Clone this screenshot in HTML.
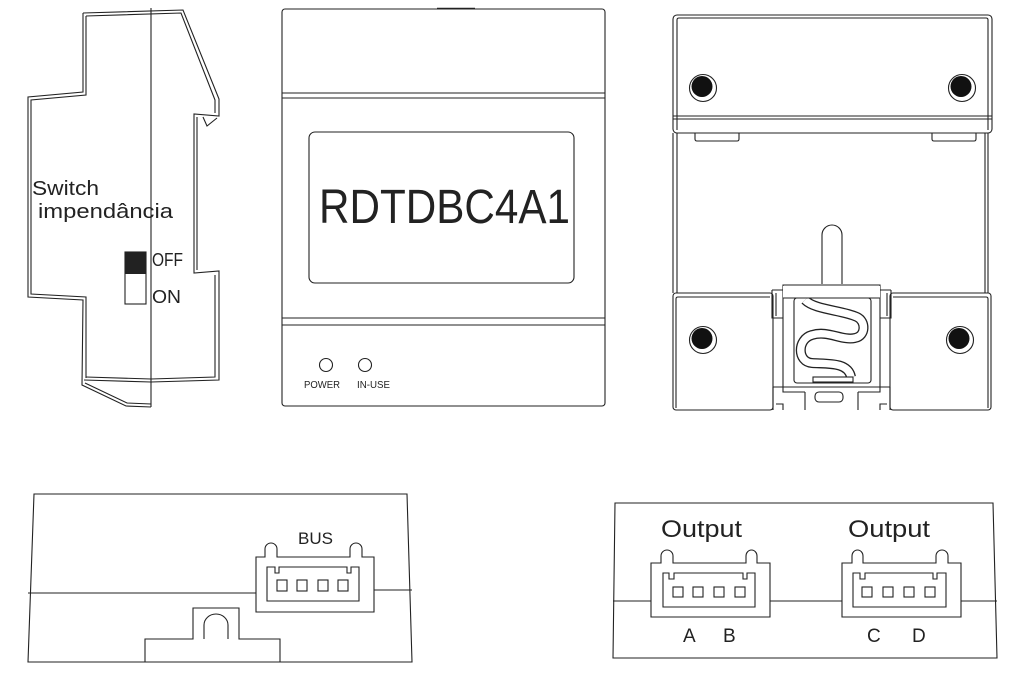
<!DOCTYPE html>
<html>
<head>
<meta charset="utf-8">
<style>
html,body{margin:0;padding:0;background:#fff;}
svg{display:block;}
text{font-family:"Liberation Sans","DejaVu Sans",sans-serif;fill:#222;}
</style>
</head>
<body>
<svg width="1018" height="681" viewBox="0 0 1018 681" xmlns="http://www.w3.org/2000/svg">
<rect width="1018" height="681" fill="#fff"/>

<!-- ========== SIDE VIEW ========== -->
<g fill="none" stroke="#222" stroke-width="1.1" stroke-linejoin="miter">
  <path d="M83,13 L183,10 L219,99 L219,116 L194,114 L194,273 L219,271 L219,380 L151,382 L84,380"/>
  <path d="M83,13 L83,92 L28,97 L28,297 L83,300 L82,385 L126,406 L151,407"/>
  <path d="M86,16 L181,13 L215,100 L215,113"/>
  <path d="M197,117 L197,270"/>
  <path d="M215,275 L215,377 L151,379 L86,377"/>
  <path d="M86,16 L86,95 L31,100 L31,294 L86,297 L86,378"/>
  <path d="M85,383 L127,403 L151,404"/>
  <path d="M203,117 L207,126 L217,118"/>
  <path d="M151,8 L151,407"/>
  <rect x="125" y="252" width="21" height="52"/>
</g>
<rect x="125" y="252" width="21" height="22" fill="#222"/>
<text x="32" y="195" font-size="20" textLength="67" lengthAdjust="spacingAndGlyphs">Switch</text>
<text x="38" y="218" font-size="20" textLength="135" lengthAdjust="spacingAndGlyphs">impendância</text>
<text x="152" y="266" font-size="18" textLength="31" lengthAdjust="spacingAndGlyphs">OFF</text>
<text x="152" y="303" font-size="18" textLength="29" lengthAdjust="spacingAndGlyphs">ON</text>

<!-- ========== FRONT VIEW ========== -->
<g fill="none" stroke="#222" stroke-width="1.1">
  <rect x="282" y="9" width="323" height="397" rx="3"/>
  <path d="M437,8.5 L475,8.5" stroke-width="1.6"/>
  <path d="M282,93 L605,93 M282,98 L605,98"/>
  <path d="M282,318 L605,318 M282,325 L605,325"/>
  <rect x="309" y="132" width="265" height="151" rx="6"/>
  <circle cx="326" cy="365" r="6.5"/>
  <circle cx="365" cy="365" r="6.5"/>
</g>
<text x="319" y="223" font-size="48" textLength="251" lengthAdjust="spacingAndGlyphs">RDTDBC4A1</text>
<text x="304" y="388" font-size="10" textLength="36" lengthAdjust="spacingAndGlyphs">POWER</text>
<text x="357" y="388" font-size="10" textLength="33" lengthAdjust="spacingAndGlyphs">IN-USE</text>

<!-- ========== BACK VIEW ========== -->
<g fill="none" stroke="#222" stroke-width="1.1">
  <rect x="673" y="15" width="319" height="118" rx="4"/>
  <path d="M677,130 L677,20 Q677,18 679,18 L986,18 Q988,18 988,20 L988,130"/>
  <path d="M673,116 L992,116 M673,119 L992,119"/>
  <path d="M673,133 L673,293 M677,133 L677,293"/>
  <path d="M988,133 L988,293 M985,133 L985,293"/>
  <path d="M695,133 L695,139 Q695,141 697,141 L737,141 Q739,141 739,139 L739,133"/>
  <path d="M932,133 L932,139 Q932,141 934,141 L974,141 Q976,141 976,139 L976,133"/>
  <rect x="673" y="293" width="100" height="117" rx="3"/>
  <path d="M676,408 L676,299 Q676,297 678,297 L770,297"/>
  <rect x="890" y="293" width="101" height="117" rx="3"/>
  <path d="M893,297 L986,297 Q988,297 988,299 L988,408"/>
  <path d="M822,284 L822,235 A10,10 0 0 1 842,235 L842,284"/>
  <path d="M783,387 L783,285 L880,285 L880,387"/>
  <path d="M783,298 L880,298"/>
  <path d="M772,290 L783,290 M772,290 L772,318 L783,318"/>
  <path d="M776,293 L776,316"/>
  <path d="M891,290 L880,290 M891,290 L891,318 L880,318"/>
  <path d="M887,293 L887,316"/>
  <path d="M773,387 L890,387"/>
  <path d="M773,387 L773,410 M890,387 L890,410"/>
  <path d="M805,392 L805,410 M858,392 L858,410 M783,387 L783,392 L805,392 M880,387 L880,392 L858,392"/>
  <path d="M776,404 L783,404 L783,410 M887,404 L880,404 L880,410"/>
  <!-- spring -->
  <path d="M805,300 C815,310 842,310 857,317 C866,321 866,336 855,338 C842,341 828,330 812,335 C797,339 797,362 812,363 C828,364 848,362 851,377" stroke="#222" stroke-width="10"/>
  <path d="M805,300 C815,310 842,310 857,317 C866,321 866,336 855,338 C842,341 828,330 812,335 C797,339 797,362 812,363 C828,364 848,362 851,377" stroke="#fff" stroke-width="7.4"/>
  <rect x="813" y="377" width="40" height="5" fill="#fff"/>
  <rect x="815" y="392" width="28" height="10" rx="4"/>
  <circle cx="703" cy="88" r="13.5"/>
  <circle cx="962" cy="88" r="13.5"/>
  <circle cx="703" cy="340" r="13.5"/>
  <circle cx="960" cy="340" r="13.5"/>
</g>
<g fill="#111">
  <circle cx="702" cy="86.5" r="10.5"/>
  <circle cx="961" cy="86.5" r="10.5"/>
  <circle cx="702" cy="338.5" r="10.5"/>
  <circle cx="959" cy="338.5" r="10.5"/>
</g>
<!-- mask spring overflow outside frame, then redraw frame -->
<path d="M783,286 L880,286 L880,298 L783,298 Z" fill="#fff"/>
<path d="M783,298 L880,298" fill="none" stroke="#222" stroke-width="1.1"/>
<rect x="794" y="298" width="77" height="85" rx="3" fill="none" stroke="#222" stroke-width="1.1"/>

<!-- ========== BOTTOM LEFT VIEW ========== -->
<g fill="none" stroke="#222" stroke-width="1.1">
  <path d="M34,494 L407,494 L412,662 L28,662 Z"/>
  <path d="M28,593 L256,593 M374,590 L412,590"/>
  <path d="M256,557 L265,557 L265,549 A6,6 0 0 1 277,549 L277,557 L350,557 L350,549 A6,6 0 0 1 362,549 L362,557 L374,557 L374,612 L256,612 Z" fill="#fff"/>
  <path d="M267,567 L275,567 L275,573 L279,573 L279,567 L347,567 L347,573 L351,573 L351,567 L359,567 L359,601 L267,601 Z"/>
  <rect x="277" y="580" width="10" height="11"/>
  <rect x="297" y="580" width="10" height="11"/>
  <rect x="318" y="580" width="10" height="11"/>
  <rect x="338" y="580" width="10" height="11"/>
  <path d="M145,662 L145,639 L193,639 L193,608 L239,608 L239,639 L280,639 L280,662"/>
  <path d="M204,639 L204,625 A12,11 0 0 1 228,625 L228,639"/>
</g>
<text x="298" y="544" font-size="17" textLength="35" lengthAdjust="spacingAndGlyphs">BUS</text>

<!-- ========== BOTTOM RIGHT VIEW ========== -->
<g fill="none" stroke="#222" stroke-width="1.1">
  <path d="M615,503 L993,503 L997,658 L613,658 Z"/>
  <path d="M613,601 L651,601 M770,601 L842,601 M961,601 L997,601"/>
  <path d="M651,563 L661,563 L661,556 A6,6 0 0 1 673,556 L673,563 L746,563 L746,556 A5.5,6 0 0 1 757,556 L757,563 L770,563 L770,617 L651,617 Z"/>
  <path d="M663,573 L669,573 L669,579 L674,579 L674,573 L743,573 L743,579 L747,579 L747,573 L755,573 L755,607 L663,607 Z"/>
  <rect x="673" y="587" width="10" height="10"/>
  <rect x="693" y="587" width="10" height="10"/>
  <rect x="714" y="587" width="10" height="10"/>
  <rect x="735" y="587" width="10" height="10"/>
  <path d="M842,563 L852,563 L852,556 A5.5,6 0 0 1 863,556 L863,563 L936,563 L936,556 A6,6 0 0 1 948,556 L948,563 L961,563 L961,617 L842,617 Z"/>
  <path d="M853,573 L860,573 L860,579 L865,579 L865,573 L933,573 L933,579 L937,579 L937,573 L946,573 L946,607 L853,607 Z"/>
  <rect x="862" y="587" width="10" height="10"/>
  <rect x="883" y="587" width="10" height="10"/>
  <rect x="904" y="587" width="10" height="10"/>
  <rect x="925" y="587" width="10" height="10"/>
</g>
<text x="661" y="537" font-size="24" textLength="81" lengthAdjust="spacingAndGlyphs">Output</text>
<text x="848" y="537" font-size="24" textLength="82" lengthAdjust="spacingAndGlyphs">Output</text>
<text x="683" y="642" font-size="19">A</text>
<text x="723" y="642" font-size="19">B</text>
<text x="867" y="642" font-size="19">C</text>
<text x="912" y="642" font-size="19">D</text>
</svg>
</body>
</html>
